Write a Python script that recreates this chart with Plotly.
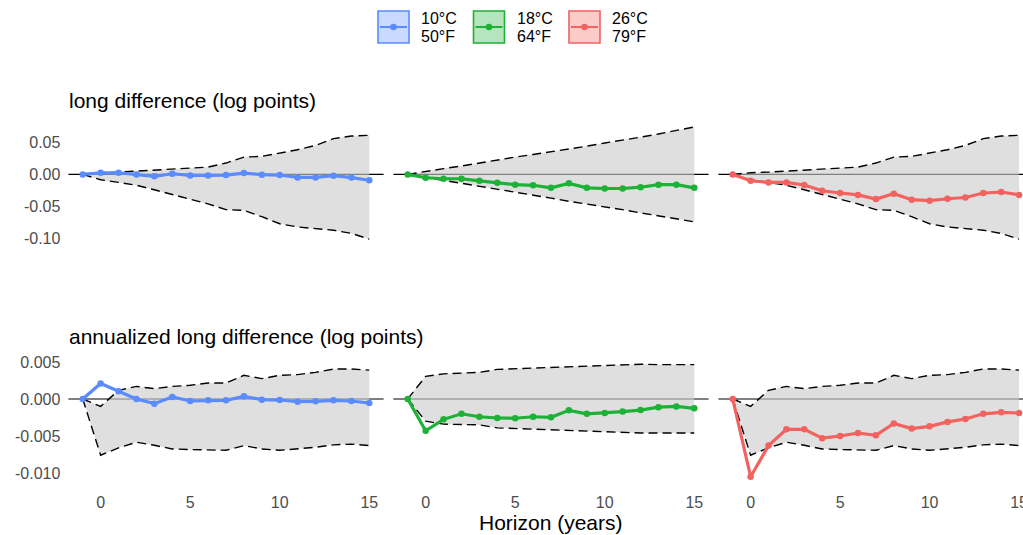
import plotly.graph_objects as go

# ---------------- data ----------------
horizon = list(range(-1, 16))
x_ticks = [0, 5, 10, 15]

temps = ["10°C", "18°C", "26°C"]
temps_f = ["50°F", "64°F", "79°F"]
colors = ["#5A8CFF", "#1DB136", "#F2625F"]
fills = ["rgba(90,140,255,0.33)", "rgba(29,177,54,0.33)", "rgba(242,98,95,0.33)"]

# long difference (log points)
ld_10 = [0, 0.0026, 0.0026, 0, -0.003, 0.001, -0.0016, -0.0016, -0.001, 0.002,
         -0.0005, -0.001, -0.0047, -0.0047, -0.002, -0.005, -0.0092]
ld_18 = [0, -0.0052, -0.0068, -0.0068, -0.010, -0.013, -0.016, -0.017, -0.021, -0.014,
         -0.021, -0.022, -0.022, -0.020, -0.016, -0.016, -0.021]
ld_26 = [0, -0.0099, -0.0125, -0.0125, -0.0166, -0.0255, -0.029, -0.032, -0.0385, -0.030,
         -0.0395, -0.041, -0.038, -0.036, -0.029, -0.0275, -0.032]

ld_hi_10 = [0, 0.0026, 0.0036, 0.0052, 0.0062, 0.0078, 0.0099, 0.0114, 0.0177, 0.0270,
            0.0281, 0.0333, 0.0385, 0.0452, 0.0557, 0.0598, 0.0609]
ld_lo_10 = [0, -0.0083, -0.0125, -0.017, -0.024, -0.031, -0.038, -0.046, -0.055, -0.056,
            -0.066, -0.077, -0.082, -0.085, -0.087, -0.092, -0.101]
ld_hi_18 = [0, 0.005, 0.009, 0.013, 0.018, 0.022, 0.027, 0.031, 0.035, 0.040,
            0.044, 0.049, 0.053, 0.058, 0.063, 0.069, 0.074]
ld_lo_18 = [0, -0.0045, -0.009, -0.014, -0.018, -0.023, -0.028, -0.032, -0.037, -0.042,
            -0.046, -0.051, -0.055, -0.060, -0.065, -0.069, -0.074]
ld_hi_26 = [0, 0.0026, 0.0036, 0.0052, 0.0062, 0.0078, 0.0099, 0.0114, 0.0177, 0.0270,
            0.0281, 0.0333, 0.0385, 0.0452, 0.0557, 0.0598, 0.0609]
ld_lo_26 = [0, -0.0083, -0.0125, -0.017, -0.024, -0.031, -0.038, -0.046, -0.055, -0.056,
            -0.066, -0.077, -0.082, -0.085, -0.087, -0.092, -0.101]

# annualized long difference (log points)
ald_10 = [0, 0.0021, 0.00104, 0, -0.00063, 0.00027, -0.00027, -0.00018, -0.00018, 0.00036,
          -0.00009, -0.00014, -0.00036, -0.00032, -0.00018, -0.00027, -0.00054]
ald_18 = [0, -0.0043, -0.00275, -0.002, -0.0024, -0.00257, -0.0026, -0.0024, -0.00248, -0.00153,
          -0.002, -0.0019, -0.0017, -0.0015, -0.0011, -0.001, -0.00126]
ald_26 = [0, -0.0105, -0.0063, -0.0041, -0.0041, -0.0053, -0.005, -0.0046, -0.0049, -0.0033,
          -0.004, -0.0037, -0.0031, -0.0027, -0.002, -0.0018, -0.0019]

ald_hi_10 = [0, -0.001, 0.00117, 0.0017, 0.0014, 0.0017, 0.00185, 0.00216, 0.00216, 0.0032,
             0.00275, 0.0032, 0.0033, 0.0036, 0.00405, 0.00405, 0.0039]
ald_lo_10 = [0, -0.0076, -0.0066, -0.00585, -0.00626, -0.00675, -0.00684, -0.00693, -0.00693, -0.0063,
             -0.00675, -0.00693, -0.00675, -0.00653, -0.0062, -0.0061, -0.0063]
ald_hi_18 = [0, 0.00306, 0.0034, 0.0035, 0.0036, 0.004, 0.0041, 0.0042, 0.0043, 0.0044,
             0.0045, 0.0046, 0.00464, 0.0047, 0.00464, 0.00464, 0.00464]
ald_lo_18 = [0, -0.003, -0.0034, -0.0034, -0.0035, -0.0039, -0.004, -0.0041, -0.0041, -0.0042,
             -0.0044, -0.0045, -0.0046, -0.0046, -0.0046, -0.0046, -0.0046]
ald_hi_26 = [0, -0.001, 0.00117, 0.0017, 0.0014, 0.0017, 0.00185, 0.00216, 0.00216, 0.0032,
             0.00275, 0.0032, 0.0033, 0.0036, 0.00405, 0.00405, 0.0039]
ald_lo_26 = [0, -0.0076, -0.0066, -0.00585, -0.00626, -0.00675, -0.00684, -0.00693, -0.00693, -0.0063,
             -0.00675, -0.00693, -0.00675, -0.00653, -0.0062, -0.0061, -0.0063]

row_titles = ["long difference (log points)", "annualized long difference (log points)"]
x_title = "Horizon (years)"

top_ticks = [-0.10, -0.05, 0.0, 0.05]
top_ticktext = ["-0.10", "-0.05", "0.00", "0.05"]
bot_ticks = [-0.010, -0.005, 0.0, 0.005]
bot_ticktext = ["-0.010", "-0.005", "0.000", "0.005"]

series = [
    [(ld_10, ld_lo_10, ld_hi_10), (ld_18, ld_lo_18, ld_hi_18), (ld_26, ld_lo_26, ld_hi_26)],
    [(ald_10, ald_lo_10, ald_hi_10), (ald_18, ald_lo_18, ald_hi_18), (ald_26, ald_lo_26, ald_hi_26)],
]

# ---------------- layout geometry ----------------
W, H = 1023, 535
x_domains = [[68.4 / W, 383.6 / W], [393.4 / W, 708.6 / W], [718.4 / W, 1.0]]
x_ranges = [[-1.8, 15.8], [-1.8, 15.8], [-1.8, 15.22]]
y_domains = [[1 - 244.8 / H, 1 - 121.3 / H], [1 - 482.3 / H, 1 - 358.6 / H]]
y_ranges = [[-0.1098, 0.0828], [-0.01126, 0.00546]]

FONT = "Liberation Sans, Arial, sans-serif"
ribbon = "rgba(205,205,205,0.63)"

fig = go.Figure()
shapes = []
layout = dict(
    width=W, height=H,
    margin=dict(l=0, r=0, t=0, b=0, autoexpand=False),
    paper_bgcolor="white", plot_bgcolor="white",
    showlegend=False,
    font=dict(family=FONT, size=16, color="#4D4D4D"),
)

for r in range(2):
    for c in range(3):
        idx = r * 3 + c + 1
        xa = "x" if idx == 1 else f"x{idx}"
        ya = "y" if idx == 1 else f"y{idx}"
        xkey = "xaxis" if idx == 1 else f"xaxis{idx}"
        ykey = "yaxis" if idx == 1 else f"yaxis{idx}"
        val, lo, hi = series[r][c]

        layout[xkey] = dict(
            domain=x_domains[c], range=x_ranges[c], anchor=ya,
            showgrid=False, zeroline=False, showline=False, ticks="",
            tickvals=x_ticks, showticklabels=(r == 1),
            tickfont=dict(size=16, color="#4D4D4D"), ticklabelstandoff=9,
            ticklabeloverflow="allow", automargin=False,
        )
        layout[ykey] = dict(
            domain=y_domains[r], range=y_ranges[r], anchor=xa,
            showgrid=False, zeroline=False, showline=False, ticks="",
            tickvals=top_ticks if r == 0 else bot_ticks,
            ticktext=top_ticktext if r == 0 else bot_ticktext,
            showticklabels=(c == 0),
            tickfont=dict(size=16, color="#4D4D4D"), ticklabelstandoff=7,
            automargin=False,
        )

        # zero reference line (under the ribbon)
        shapes.append(dict(type="line", xref=f"{xa} domain", yref=ya,
                           x0=0, x1=1, y0=0, y1=0, layer="below",
                           line=dict(color="black", width=1.2)))

        # ribbon
        fig.add_trace(go.Scatter(x=horizon, y=lo, xaxis=xa, yaxis=ya, mode="lines",
                                 line=dict(width=0, color="rgba(0,0,0,0)"),
                                 hoverinfo="skip"))
        fig.add_trace(go.Scatter(x=horizon, y=hi, xaxis=xa, yaxis=ya, mode="lines",
                                 line=dict(width=0, color="rgba(0,0,0,0)"),
                                 fill="tonexty", fillcolor=ribbon, hoverinfo="skip"))
        # dashed bounds
        for b in (hi, lo):
            fig.add_trace(go.Scatter(x=horizon, y=b, xaxis=xa, yaxis=ya, mode="lines",
                                     line=dict(color="black", width=1.4, dash="9px,5px")))
        # estimate
        fig.add_trace(go.Scatter(x=horizon, y=val, xaxis=xa, yaxis=ya, mode="lines+markers",
                                 line=dict(color=colors[c], width=3.2),
                                 marker=dict(color=colors[c], size=6.5)))

annotations = []
TFONT = dict(size=21, color="black", family=FONT)
annotations.append(dict(text=row_titles[0], x=67 / W, y=1 - 100 / H, xref="paper", yref="paper",
                        xanchor="left", yanchor="middle", showarrow=False, font=TFONT))
annotations.append(dict(text=row_titles[1], x=67 / W, y=1 - 336 / H, xref="paper", yref="paper",
                        xanchor="left", yanchor="middle", showarrow=False, font=TFONT))
annotations.append(dict(text=x_title, x=551 / W, y=1 - 522.5 / H, xref="paper", yref="paper",
                        xanchor="center", yanchor="middle", showarrow=False, font=TFONT,
                        borderpad=0))

# manual legend
box_left = [378, 473.5, 569]
for i in range(3):
    x0 = box_left[i]
    x1 = x0 + 31
    shapes.append(dict(type="rect", xref="paper", yref="paper",
                       x0=x0 / W, x1=x1 / W, y0=1 - 43 / H, y1=1 - 11 / H,
                       fillcolor=fills[i], line=dict(color=colors[i], width=1.6)))
    shapes.append(dict(type="line", xref="paper", yref="paper",
                       x0=(x0 + 2) / W, x1=(x1 - 2) / W, y0=1 - 27 / H, y1=1 - 27 / H,
                       line=dict(color=colors[i], width=2)))
    cx = (x0 + x1) / 2
    shapes.append(dict(type="circle", xref="paper", yref="paper",
                       x0=(cx - 3.3) / W, x1=(cx + 3.3) / W, y0=1 - 30.3 / H, y1=1 - 23.7 / H,
                       fillcolor=colors[i], line=dict(color=colors[i], width=0)))
    annotations.append(dict(text=temps[i], x=(x1 + 10) / W, y=1 - 18.5 / H, xref="paper", yref="paper",
                            xanchor="left", yanchor="middle", showarrow=False,
                            font=dict(size=16, color="black", family=FONT)))
    annotations.append(dict(text=temps_f[i], x=(x1 + 10) / W, y=1 - 36.5 / H, xref="paper", yref="paper",
                            xanchor="left", yanchor="middle", showarrow=False,
                            font=dict(size=16, color="black", family=FONT)))

layout["shapes"] = shapes
layout["annotations"] = annotations
fig.update_layout(**layout)

fig.write_html("out.html")
